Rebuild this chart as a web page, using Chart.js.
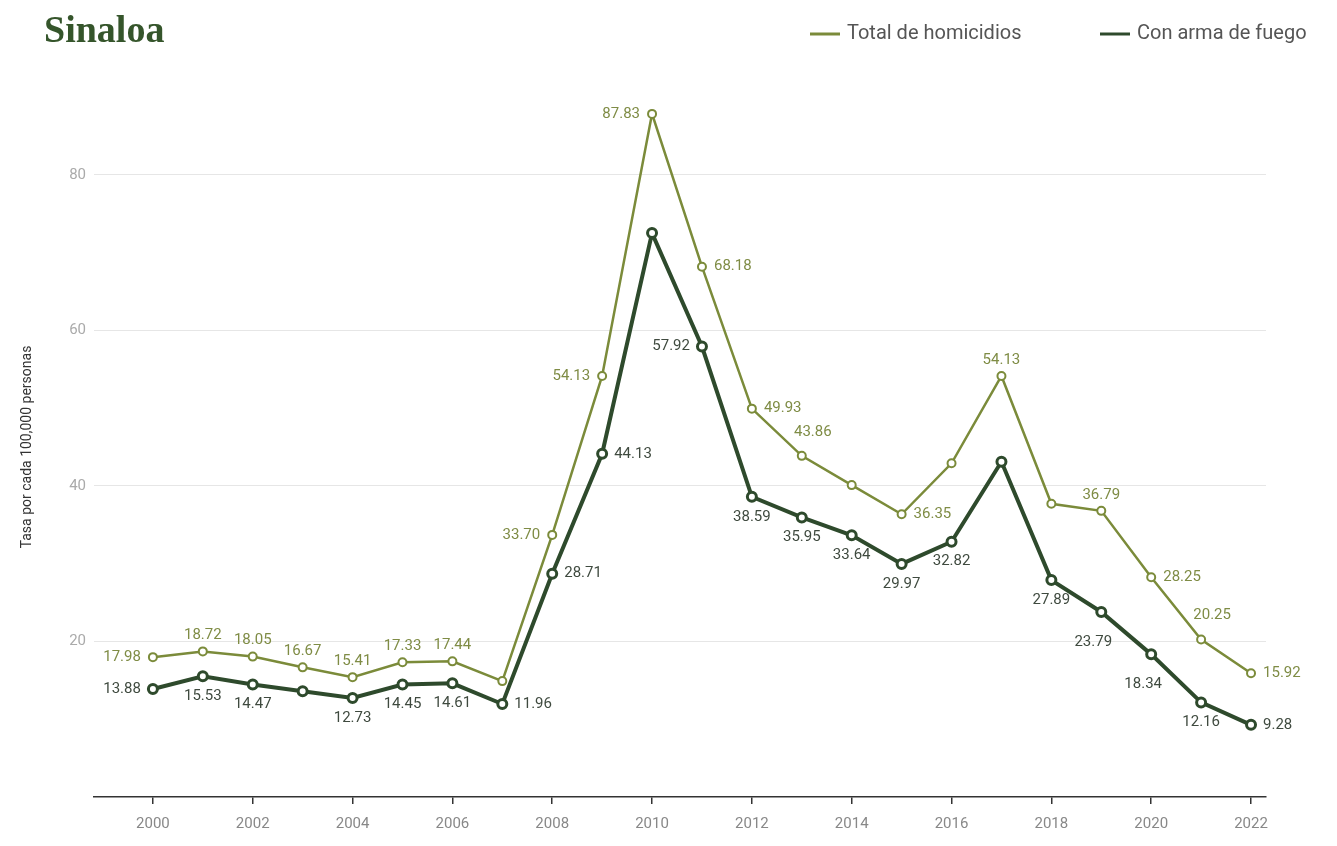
<!DOCTYPE html>
<html>
<head>
<meta charset="utf-8">
<script src="https://cdn.jsdelivr.net/npm/chart.js"></script>
<style>
  html, body { margin: 0; padding: 0; background: #fff; }
  #wrap { position: relative; width: 1337px; height: 846px; }
  #wrap canvas { position: absolute; left: 0; top: 0; }
  h1 {
    position: absolute; left: 44px; top: 10px; margin: 0;
    font-family: "Liberation Serif", "DejaVu Serif", serif;
    font-weight: bold; font-size: 38px; line-height: 38px;
    color: #35552b;
  }
</style>
</head>
<body>
<div id="wrap">
  <canvas id="line-chart" width="1337" height="846"></canvas>
  <h1>Sinaloa</h1>
</div>
<script>
const years = [2000, 2001, 2002, 2003, 2004, 2005, 2006, 2007, 2008, 2009, 2010, 2011,
  2012, 2013, 2014, 2015, 2016, 2017, 2018, 2019, 2020, 2021, 2022];
const totalHomicidios = [17.98, 18.72, 18.05, 16.67, 15.41, 17.33, 17.44, 14.9, 33.70, 54.13, 87.83, 68.18,
  49.93, 43.86, 40.1, 36.35, 42.9, 54.13, 37.7, 36.79, 28.25, 20.25, 15.92];
const conArmaDeFuego = [13.88, 15.53, 14.47, 13.6, 12.73, 14.45, 14.61, 11.96, 28.71, 44.13, 72.5, 57.92,
  38.59, 35.95, 33.64, 29.97, 32.82, 43.1, 27.89, 23.79, 18.34, 12.16, 9.28];
const yTicks = [20, 40, 60, 80];
const xTicks = [2000, 2002, 2004, 2006, 2008, 2010, 2012, 2014, 2016, 2018, 2020, 2022];

// donde va la etiqueta de cada punto (null = sin etiqueta)
const totalPos = ['left', 'top', 'top', 'top', 'top', 'top', 'top', null, 'left', 'left', 'left', 'right',
  'right', 'topright', null, 'right', null, 'top', null, 'top', 'right', 'topright', 'right'];
const armaPos = ['left', 'bottom', 'bottom', null, 'bottom', 'bottom', 'bottom', 'right', 'right', 'right', null, 'left',
  'bottom', 'bottom', 'bottom', 'bottom', 'bottom', null, 'bottom', 'bottomleft', 'bottomleft', 'bottom', 'right'];

const OLIVE = '#7b8b3a';
const DARK = '#2e4a2c';

const toPoints = (vals) => years.map((y, i) => ({ x: y, y: vals[i] }));

// etiquetas de valores
const pointLabels = {
  id: 'pointLabels',
  afterDatasetsDraw(chart) {
    const ctx = chart.ctx;
    ctx.save();
    ctx.font = '15px Roboto';
    chart.data.datasets.forEach((ds, di) => {
      const meta = chart.getDatasetMeta(di);
      ctx.fillStyle = ds.labelColor;
      meta.data.forEach((pt, i) => {
        const pos = ds.labelPos[i];
        if (!pos) return;
        const txt = ds.data[i].y.toFixed(2);
        let x = pt.x, y = pt.y;
        ctx.textBaseline = 'middle';
        if (pos === 'left') { ctx.textAlign = 'right'; x -= 12; }
        else if (pos === 'right') { ctx.textAlign = 'left'; x += 12; }
        else if (pos === 'top') { ctx.textAlign = 'center'; y -= 16; }
        else if (pos === 'topright') { ctx.textAlign = 'center'; x += 11; y -= 24; }
        else if (pos === 'bottom') { ctx.textAlign = 'center'; y += 20; }
        else if (pos === 'bottomleft') { ctx.textAlign = 'center'; x -= 8; y += 30; }
        ctx.fillText(txt, x, y);
      });
    });
    ctx.restore();
  }
};

// leyenda arriba a la derecha
const legendLines = {
  id: 'legendLines',
  afterDraw(chart) {
    const ctx = chart.ctx;
    const starts = [810, 1100];
    ctx.save();
    ctx.font = '20px Roboto';
    ctx.textBaseline = 'middle';
    ctx.textAlign = 'left';
    chart.data.datasets.forEach((ds, di) => {
      const x = starts[di], y = 34;
      ctx.strokeStyle = ds.borderColor;
      ctx.lineWidth = 3;
      ctx.beginPath();
      ctx.moveTo(x, y);
      ctx.lineTo(x + 30, y);
      ctx.stroke();
      ctx.fillStyle = '#555';
      ctx.fillText(ds.label, x + 37, y);
    });
    ctx.restore();
  }
};

new Chart(document.getElementById('line-chart'), {
  type: 'line',
  data: {
    datasets: [
      {
        label: 'Total de homicidios',
        data: toPoints(totalHomicidios),
        borderColor: OLIVE,
        backgroundColor: '#fff',
        borderWidth: 2.5,
        pointRadius: 4,
        pointBorderWidth: 2,
        pointBackgroundColor: '#fff',
        pointBorderColor: OLIVE,
        labelColor: '#7f8c45',
        labelPos: totalPos,
        order: 1
      },
      {
        label: 'Con arma de fuego',
        data: toPoints(conArmaDeFuego),
        borderColor: DARK,
        backgroundColor: '#fff',
        borderWidth: 4,
        pointRadius: 4.5,
        pointBorderWidth: 3,
        pointBackgroundColor: '#fff',
        pointBorderColor: DARK,
        labelColor: '#3f4a3f',
        labelPos: armaPos,
        order: 0
      }
    ]
  },
  options: {
    responsive: false,
    animation: false,
    layout: { padding: { top: 97, right: 71, bottom: 0, left: 0 } },
    plugins: {
      legend: { display: false },
      tooltip: { enabled: false }
    },
    scales: {
      x: {
        type: 'linear',
        min: 1998.82,
        max: 2022.3,
        afterBuildTicks(scale) { scale.ticks = xTicks.map(v => ({ value: v })); },
        afterFit(scale) { scale.height = 49; },
        grid: { drawOnChartArea: false, drawTicks: true, tickLength: 7, color: '#333', lineWidth: 1.5 },
        border: { display: true, color: '#333', width: 1.5 },
        ticks: {
          padding: 11,
          color: '#888',
          font: { family: 'Roboto', size: 15 },
          maxRotation: 0,
          callback: (v) => String(v)
        }
      },
      y: {
        min: 0,
        max: 90,
        afterBuildTicks(scale) { scale.ticks = yTicks.map(v => ({ value: v })); },
        afterFit(scale) { scale.width = 94; },
        grid: { color: '#e6e6e6', lineWidth: 1, drawTicks: false },
        border: { display: false },
        ticks: {
          padding: 8,
          color: '#aaa',
          font: { family: 'Roboto', size: 15 }
        },
        title: {
          display: true,
          text: 'Tasa por cada 100,000 personas',
          color: '#333',
          font: { family: 'Roboto', size: 14 },
          padding: { top: 19, bottom: 0 }
        }
      }
    }
  },
  plugins: [pointLabels, legendLines]
});
</script>
</body>
</html>
